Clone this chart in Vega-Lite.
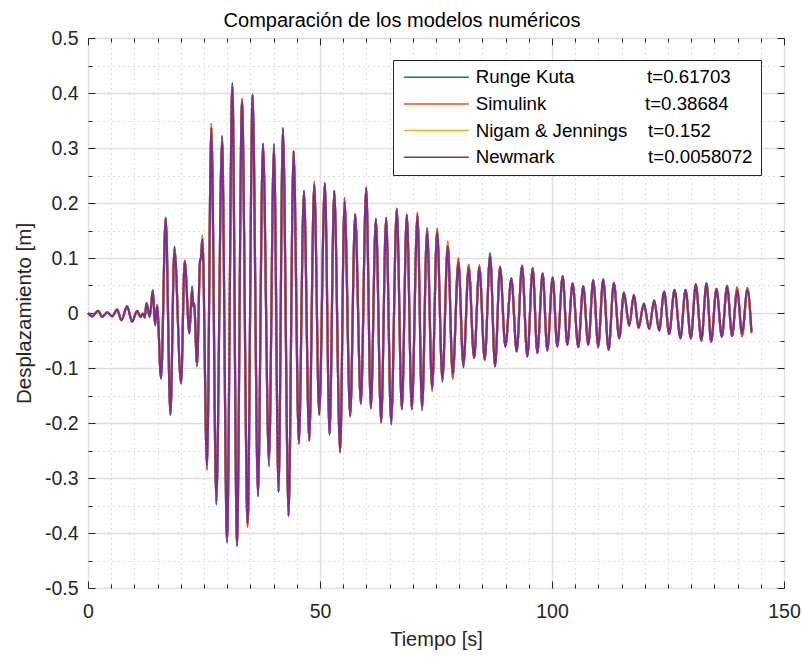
{
  "$schema": "https://vega.github.io/schema/vega-lite/v6.json",
  "width": 696,
  "height": 550,
  "autosize": {"type": "none"},
  "padding": {"left": 88, "top": 38, "right": 18, "bottom": 71},
  "background": "white",
  "config": {
    "font": "Liberation Sans",
    "view": {"stroke": "#262626", "strokeWidth": 1},
    "axis": {"domain": false, "labelFont": "Liberation Sans", "titleFont": "Liberation Sans", "labelColor": "#262626", "titleColor": "#262626", "tickColor": "#262626", "titleFontWeight": "normal"}
  },
  "title": {"text": "Comparación de los modelos numéricos", "fontSize": 20, "fontWeight": "normal", "color": "#000000", "anchor": "middle", "dx": -34, "dy": 11, "offset": 8},
  "data": {"values": [
    {"t":0,"rk":0,"sim":0,"nj":0,"nm":0},
    {"t":0.89,"rk":-0.006,"sim":-0.006,"nj":-0.006,"nm":-0.006},
    {"t":2.19,"rk":0.004,"sim":0.004,"nj":0.004,"nm":0.004},
    {"t":3.05,"rk":-0.007,"sim":-0.007,"nj":-0.007,"nm":-0.007},
    {"t":4.12,"rk":0.001,"sim":0.001,"nj":0.001,"nm":0.001},
    {"t":5.21,"rk":-0.006,"sim":-0.006,"nj":-0.006,"nm":-0.006},
    {"t":6.28,"rk":0.006,"sim":0.006,"nj":0.006,"nm":0.006},
    {"t":7.21,"rk":-0.013,"sim":-0.013,"nj":-0.013,"nm":-0.013},
    {"t":8.43,"rk":0.012,"sim":0.012,"nj":0.012,"nm":0.012},
    {"t":9.51,"rk":-0.016,"sim":-0.016,"nj":-0.016,"nm":-0.016},
    {"t":10.58,"rk":0.004,"sim":0.004,"nj":0.004,"nm":0.004},
    {"t":11.30,"rk":-0.007,"sim":-0.007,"nj":-0.007,"nm":-0.007},
    {"t":11.81,"rk":-0.001,"sim":-0.001,"nj":-0.001,"nm":-0.001},
    {"t":12.23,"rk":-0.008,"sim":-0.008,"nj":-0.008,"nm":-0.008},
    {"t":12.62,"rk":0.018,"sim":0.018,"nj":0.018,"nm":0.018},
    {"t":13.31,"rk":-0.007,"sim":-0.007,"nj":-0.007,"nm":-0.007},
    {"t":13.96,"rk":0.041,"sim":0.041,"nj":0.041,"nm":0.041},
    {"t":14.46,"rk":-0.022,"sim":-0.022,"nj":-0.022,"nm":-0.022},
    {"t":14.89,"rk":0.014,"sim":0.014,"nj":0.014,"nm":0.014},
    {"t":15.75,"rk":-0.119,"sim":-0.119,"nj":-0.119,"nm":-0.119},
    {"t":16.75,"rk":0.173,"sim":0.173,"nj":0.173,"nm":0.173},
    {"t":17.76,"rk":-0.184,"sim":-0.186,"nj":-0.184,"nm":-0.184},
    {"t":18.62,"rk":0.121,"sim":0.115,"nj":0.115,"nm":0.115},
    {"t":20.06,"rk":-0.128,"sim":-0.128,"nj":-0.128,"nm":-0.128},
    {"t":20.84,"rk":0.095,"sim":0.095,"nj":0.095,"nm":0.095},
    {"t":21.85,"rk":-0.037,"sim":-0.037,"nj":-0.037,"nm":-0.037},
    {"t":22.43,"rk":0.049,"sim":0.043,"nj":0.043,"nm":0.043},
    {"t":22.66,"rk":0.012,"sim":0.012,"nj":0.012,"nm":0.012},
    {"t":22.86,"rk":0.018,"sim":0.018,"nj":0.018,"nm":0.018},
    {"t":23.50,"rk":-0.097,"sim":-0.092,"nj":-0.092,"nm":-0.092},
    {"t":24.15,"rk":0.095,"sim":0.095,"nj":0.095,"nm":0.095},
    {"t":24.35,"rk":0.100,"sim":0.100,"nj":0.100,"nm":0.100},
    {"t":24.65,"rk":0.135,"sim":0.141,"nj":0.139,"nm":0.135},
    {"t":25.65,"rk":-0.278,"sim":-0.286,"nj":-0.278,"nm":-0.278},
    {"t":26.58,"rk":0.337,"sim":0.345,"nj":0.341,"nm":0.337},
    {"t":27.66,"rk":-0.349,"sim":-0.343,"nj":-0.343,"nm":-0.343},
    {"t":28.88,"rk":0.322,"sim":0.314,"nj":0.314,"nm":0.314},
    {"t":29.96,"rk":-0.417,"sim":-0.411,"nj":-0.411,"nm":-0.411},
    {"t":31.11,"rk":0.418,"sim":0.412,"nj":0.412,"nm":0.412},
    {"t":32.11,"rk":-0.424,"sim":-0.418,"nj":-0.418,"nm":-0.418},
    {"t":33.19,"rk":0.385,"sim":0.390,"nj":0.385,"nm":0.385},
    {"t":34.40,"rk":-0.383,"sim":-0.389,"nj":-0.383,"nm":-0.383},
    {"t":35.48,"rk":0.397,"sim":0.397,"nj":0.397,"nm":0.397},
    {"t":36.64,"rk":-0.333,"sim":-0.333,"nj":-0.333,"nm":-0.333},
    {"t":37.71,"rk":0.308,"sim":0.308,"nj":0.308,"nm":0.308},
    {"t":39.00,"rk":-0.279,"sim":-0.268,"nj":-0.268,"nm":-0.268},
    {"t":40.08,"rk":0.308,"sim":0.301,"nj":0.301,"nm":0.301},
    {"t":41.07,"rk":-0.325,"sim":-0.325,"nj":-0.325,"nm":-0.325},
    {"t":42.01,"rk":0.336,"sim":0.336,"nj":0.336,"nm":0.336},
    {"t":43.23,"rk":-0.369,"sim":-0.369,"nj":-0.369,"nm":-0.369},
    {"t":44.31,"rk":0.295,"sim":0.295,"nj":0.295,"nm":0.295},
    {"t":45.45,"rk":-0.237,"sim":-0.237,"nj":-0.237,"nm":-0.237},
    {"t":46.54,"rk":0.222,"sim":0.222,"nj":0.222,"nm":0.222},
    {"t":47.68,"rk":-0.232,"sim":-0.232,"nj":-0.232,"nm":-0.232},
    {"t":48.76,"rk":0.234,"sim":0.239,"nj":0.234,"nm":0.234},
    {"t":49.83,"rk":-0.185,"sim":-0.185,"nj":-0.185,"nm":-0.185},
    {"t":51.05,"rk":0.236,"sim":0.236,"nj":0.236,"nm":0.236},
    {"t":52.06,"rk":-0.221,"sim":-0.221,"nj":-0.221,"nm":-0.221},
    {"t":53.07,"rk":0.222,"sim":0.222,"nj":0.222,"nm":0.222},
    {"t":54.34,"rk":-0.253,"sim":-0.253,"nj":-0.253,"nm":-0.253},
    {"t":55.29,"rk":0.203,"sim":0.210,"nj":0.203,"nm":0.203},
    {"t":56.51,"rk":-0.188,"sim":-0.188,"nj":-0.188,"nm":-0.188},
    {"t":57.58,"rk":0.180,"sim":0.180,"nj":0.180,"nm":0.180},
    {"t":58.81,"rk":-0.165,"sim":-0.165,"nj":-0.165,"nm":-0.165},
    {"t":59.96,"rk":0.228,"sim":0.228,"nj":0.228,"nm":0.228},
    {"t":60.96,"rk":-0.173,"sim":-0.173,"nj":-0.173,"nm":-0.173},
    {"t":62.04,"rk":0.171,"sim":0.171,"nj":0.171,"nm":0.171},
    {"t":63.18,"rk":-0.199,"sim":-0.199,"nj":-0.199,"nm":-0.199},
    {"t":64.25,"rk":0.173,"sim":0.173,"nj":0.173,"nm":0.173},
    {"t":65.34,"rk":-0.203,"sim":-0.199,"nj":-0.199,"nm":-0.199},
    {"t":66.55,"rk":0.190,"sim":0.190,"nj":0.190,"nm":0.190},
    {"t":67.64,"rk":-0.175,"sim":-0.175,"nj":-0.175,"nm":-0.175},
    {"t":68.71,"rk":0.179,"sim":0.179,"nj":0.179,"nm":0.179},
    {"t":69.79,"rk":-0.175,"sim":-0.175,"nj":-0.175,"nm":-0.175},
    {"t":71.00,"rk":0.177,"sim":0.183,"nj":0.177,"nm":0.177},
    {"t":72.00,"rk":-0.177,"sim":-0.172,"nj":-0.172,"nm":-0.172},
    {"t":73.08,"rk":0.155,"sim":0.150,"nj":0.150,"nm":0.150},
    {"t":74.17,"rk":-0.136,"sim":-0.142,"nj":-0.136,"nm":-0.136},
    {"t":75.24,"rk":0.148,"sim":0.154,"nj":0.148,"nm":0.148},
    {"t":76.38,"rk":-0.125,"sim":-0.120,"nj":-0.120,"nm":-0.120},
    {"t":77.54,"rk":0.122,"sim":0.130,"nj":0.126,"nm":0.122},
    {"t":78.61,"rk":-0.112,"sim":-0.120,"nj":-0.112,"nm":-0.112},
    {"t":79.83,"rk":0.092,"sim":0.100,"nj":0.092,"nm":0.092},
    {"t":80.90,"rk":-0.099,"sim":-0.094,"nj":-0.094,"nm":-0.094},
    {"t":82.05,"rk":0.083,"sim":0.088,"nj":0.083,"nm":0.083},
    {"t":83.21,"rk":-0.082,"sim":-0.082,"nj":-0.082,"nm":-0.082},
    {"t":84.34,"rk":0.083,"sim":0.087,"nj":0.083,"nm":0.083},
    {"t":85.50,"rk":-0.085,"sim":-0.085,"nj":-0.085,"nm":-0.085},
    {"t":86.65,"rk":0.109,"sim":0.104,"nj":0.104,"nm":0.104},
    {"t":87.73,"rk":-0.097,"sim":-0.097,"nj":-0.097,"nm":-0.097},
    {"t":88.80,"rk":0.084,"sim":0.084,"nj":0.084,"nm":0.084},
    {"t":89.95,"rk":-0.061,"sim":-0.061,"nj":-0.061,"nm":-0.061},
    {"t":91.24,"rk":0.063,"sim":0.063,"nj":0.063,"nm":0.063},
    {"t":92.39,"rk":-0.070,"sim":-0.070,"nj":-0.070,"nm":-0.070},
    {"t":93.54,"rk":0.086,"sim":0.086,"nj":0.086,"nm":0.086},
    {"t":94.68,"rk":-0.079,"sim":-0.079,"nj":-0.079,"nm":-0.079},
    {"t":95.84,"rk":0.082,"sim":0.082,"nj":0.082,"nm":0.082},
    {"t":96.84,"rk":-0.073,"sim":-0.073,"nj":-0.073,"nm":-0.073},
    {"t":97.98,"rk":0.072,"sim":0.072,"nj":0.072,"nm":0.072},
    {"t":98.99,"rk":-0.068,"sim":-0.068,"nj":-0.068,"nm":-0.068},
    {"t":100.14,"rk":0.065,"sim":0.065,"nj":0.065,"nm":0.065},
    {"t":101.14,"rk":-0.061,"sim":-0.061,"nj":-0.061,"nm":-0.061},
    {"t":102.30,"rk":0.067,"sim":0.067,"nj":0.067,"nm":0.067},
    {"t":103.30,"rk":-0.058,"sim":-0.058,"nj":-0.058,"nm":-0.058},
    {"t":104.44,"rk":0.054,"sim":0.054,"nj":0.054,"nm":0.054},
    {"t":105.66,"rk":-0.062,"sim":-0.062,"nj":-0.062,"nm":-0.062},
    {"t":106.73,"rk":0.049,"sim":0.049,"nj":0.049,"nm":0.049},
    {"t":107.82,"rk":-0.058,"sim":-0.058,"nj":-0.058,"nm":-0.058},
    {"t":108.89,"rk":0.060,"sim":0.060,"nj":0.060,"nm":0.060},
    {"t":109.96,"rk":-0.063,"sim":-0.060,"nj":-0.060,"nm":-0.060},
    {"t":111.03,"rk":0.061,"sim":0.061,"nj":0.061,"nm":0.061},
    {"t":112.20,"rk":-0.067,"sim":-0.067,"nj":-0.067,"nm":-0.067},
    {"t":113.33,"rk":0.055,"sim":0.055,"nj":0.055,"nm":0.055},
    {"t":114.49,"rk":-0.046,"sim":-0.046,"nj":-0.046,"nm":-0.046},
    {"t":115.50,"rk":0.037,"sim":0.037,"nj":0.037,"nm":0.037},
    {"t":116.64,"rk":-0.023,"sim":-0.023,"nj":-0.023,"nm":-0.023},
    {"t":117.65,"rk":0.033,"sim":0.033,"nj":0.033,"nm":0.033},
    {"t":118.65,"rk":-0.027,"sim":-0.027,"nj":-0.027,"nm":-0.027},
    {"t":119.80,"rk":0.017,"sim":0.017,"nj":0.017,"nm":0.017},
    {"t":120.96,"rk":-0.029,"sim":-0.029,"nj":-0.029,"nm":-0.029},
    {"t":122.02,"rk":0.023,"sim":0.023,"nj":0.023,"nm":0.023},
    {"t":123.09,"rk":-0.032,"sim":-0.032,"nj":-0.032,"nm":-0.032},
    {"t":124.17,"rk":0.039,"sim":0.039,"nj":0.039,"nm":0.039},
    {"t":125.25,"rk":-0.038,"sim":-0.038,"nj":-0.038,"nm":-0.038},
    {"t":126.40,"rk":0.042,"sim":0.042,"nj":0.042,"nm":0.042},
    {"t":127.68,"rk":-0.046,"sim":-0.046,"nj":-0.046,"nm":-0.046},
    {"t":128.78,"rk":0.042,"sim":0.042,"nj":0.042,"nm":0.042},
    {"t":129.92,"rk":-0.046,"sim":-0.046,"nj":-0.046,"nm":-0.046},
    {"t":130.99,"rk":0.053,"sim":0.051,"nj":0.051,"nm":0.051},
    {"t":132.19,"rk":-0.051,"sim":-0.049,"nj":-0.049,"nm":-0.049},
    {"t":133.30,"rk":0.054,"sim":0.054,"nj":0.054,"nm":0.054},
    {"t":134.30,"rk":-0.052,"sim":-0.052,"nj":-0.052,"nm":-0.052},
    {"t":135.44,"rk":0.044,"sim":0.044,"nj":0.044,"nm":0.044},
    {"t":136.60,"rk":-0.043,"sim":-0.043,"nj":-0.043,"nm":-0.043},
    {"t":137.74,"rk":0.050,"sim":0.048,"nj":0.048,"nm":0.048},
    {"t":138.81,"rk":-0.042,"sim":-0.042,"nj":-0.042,"nm":-0.042},
    {"t":139.90,"rk":0.041,"sim":0.047,"nj":0.041,"nm":0.041},
    {"t":140.97,"rk":-0.038,"sim":-0.043,"nj":-0.038,"nm":-0.038},
    {"t":142.12,"rk":0.043,"sim":0.046,"nj":0.043,"nm":0.043},
    {"t":142.98,"rk":-0.034,"sim":-0.037,"nj":-0.034,"nm":-0.034}
  ]},
  "transform": [{"fold": ["rk", "sim", "nj", "nm"], "as": ["serie", "d"]}],
  "layer": [
    {
      "mark": {"type": "point", "opacity": 0},
      "encoding": {
        "x": {"field": "t", "type": "quantitative", "scale": {"domain": [0, 150], "nice": false, "zero": false},
          "axis": {"orient": "bottom", "values": [5,10,15,20,25,30,35,40,45,55,60,65,70,75,80,85,90,95,105,110,115,120,125,130,135,140,145], "grid": true, "gridDash": [1, 4], "gridColor": "#bdbdbd", "gridWidth": 1, "labels": false, "ticks": true, "tickSize": -4, "tickWidth": 1, "domain": false, "title": null}},
        "y": {"field": "d", "type": "quantitative", "scale": {"domain": [-0.5, 0.5], "nice": false, "zero": false},
          "axis": {"orient": "left", "values": [-0.45,-0.35,-0.25,-0.15,-0.05,0.05,0.15,0.25,0.35,0.45], "grid": true, "gridDash": [1, 4], "gridColor": "#bdbdbd", "gridWidth": 1, "labels": false, "ticks": true, "tickSize": -4, "tickWidth": 1, "domain": false, "title": null}}
      }
    },
    {
      "mark": {"type": "point", "opacity": 0},
      "encoding": {
        "x": {"field": "t", "type": "quantitative",
          "axis": {"orient": "top", "values": [5,10,15,20,25,30,35,40,45,55,60,65,70,75,80,85,90,95,105,110,115,120,125,130,135,140,145], "grid": false, "labels": false, "ticks": true, "tickSize": -4, "tickWidth": 1, "domain": false, "title": null}},
        "y": {"field": "d", "type": "quantitative",
          "axis": {"orient": "right", "values": [-0.45,-0.35,-0.25,-0.15,-0.05,0.05,0.15,0.25,0.35,0.45], "grid": false, "labels": false, "ticks": true, "tickSize": -4, "tickWidth": 1, "domain": false, "title": null}}
      }
    },
    {
      "mark": {"type": "line", "interpolate": "monotone", "strokeWidth": 2.2},
      "encoding": {
        "x": {"field": "t", "type": "quantitative",
          "axis": {"orient": "bottom", "values": [0, 50, 100, 150], "grid": true, "gridColor": "#dedede", "gridWidth": 1.5, "labels": true, "labelFontSize": 19.5, "labelPadding": 21, "labelFlush": false, "ticks": true, "tickSize": -7, "tickWidth": 1, "domain": false, "title": "Tiempo [s]", "titleFontSize": 20, "titlePadding": 9}},
        "y": {"field": "d", "type": "quantitative",
          "axis": {"orient": "left", "values": [-0.5,-0.4,-0.3,-0.2,-0.1,0,0.1,0.2,0.3,0.4,0.5], "labelExpr": "toString(round(datum.value*10)/10)", "grid": true, "gridColor": "#dedede", "gridWidth": 1.5, "labels": true, "labelFontSize": 19.5, "labelPadding": 17, "labelFlush": false, "ticks": true, "tickSize": -7, "tickWidth": 1, "domain": false, "title": "Desplazamiento [m]", "titleFontSize": 20.5, "titlePadding": 10}},
        "color": {"field": "serie", "type": "nominal",
          "scale": {"domain": ["rk", "sim", "nj", "nm"], "range": ["#0072BD", "#D95319", "#EDB120", "#7E2F8E"]},
          "legend": {
            "title": null, "orient": "none", "legendX": 305, "legendY": 22,
            "labelExpr": "datum.value == 'rk' ? 'Runge Kuta\u00a0\u00a0\u00a0\u00a0\u00a0\u00a0\u00a0\u00a0\u00a0\u00a0\u00a0\u00a0\u00a0\u00a0t=0.61703' : datum.value == 'sim' ? 'Simulink\u00a0\u00a0\u00a0\u00a0\u00a0\u00a0\u00a0\u00a0\u00a0\u00a0\u00a0\u00a0\u00a0\u00a0\u00a0\u00a0\u00a0\u00a0\u00a0t=0.38684' : datum.value == 'nj' ? 'Nigam & Jennings\u00a0\u00a0\u00a0\u00a0t=0.152' : 'Newmark\u00a0\u00a0\u00a0\u00a0\u00a0\u00a0\u00a0\u00a0\u00a0\u00a0\u00a0\u00a0\u00a0\u00a0\u00a0\u00a0\u00a0\u00a0t=0.0058072'",
            "labelFont": "Liberation Sans", "labelFontSize": 18.7, "labelColor": "#000000", "labelLimit": 500,
            "symbolType": "M-5,0H5", "symbolSize": 169, "symbolStrokeWidth": 1.5, "symbolOffset": 26, "labelOffset": 30,
            "rowPadding": 6.6, "padding": 8, "fillColor": "white", "strokeColor": "#262626", "cornerRadius": 0
          }
        }
      }
    },
    {
      "mark": {"type": "point", "opacity": 0},
      "encoding": {
        "x": {"field": "t", "type": "quantitative",
          "axis": {"orient": "top", "values": [0, 50, 100, 150], "grid": false, "labels": false, "ticks": true, "tickSize": -7, "tickWidth": 1, "domain": false, "title": null}},
        "y": {"field": "d", "type": "quantitative",
          "axis": {"orient": "right", "values": [-0.5,-0.4,-0.3,-0.2,-0.1,0,0.1,0.2,0.3,0.4,0.5], "grid": false, "labels": false, "ticks": true, "tickSize": -7, "tickWidth": 1, "domain": false, "title": null}}
      }
    }
  ],
  "resolve": {"axis": {"x": "independent", "y": "independent"}}
}
